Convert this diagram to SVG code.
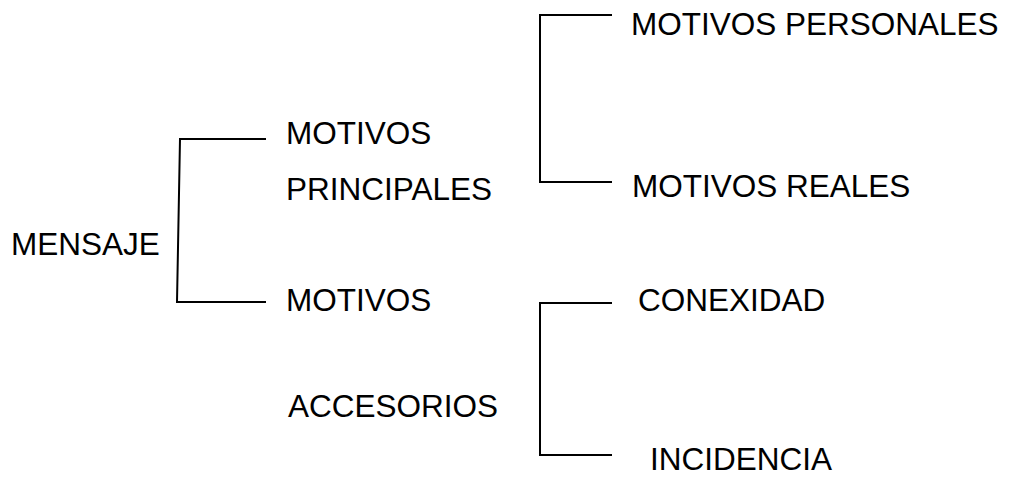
<svg xmlns="http://www.w3.org/2000/svg" width="1010" height="477" viewBox="0 0 1010 477">
<style>
text{font-family:"Liberation Sans",Arial,sans-serif;font-size:31.5px;fill:#000}
.c{fill:none;stroke:#000;stroke-width:2}
</style>
<rect width="1010" height="477" fill="#fff"/>
<g id="connectors">
<path class="c" d="M266,139 H180 L177,302 H266"/>
<path class="c" d="M612,15 H540 V182 H612"/>
<path class="c" d="M612,303 H540 V455 H612"/>
</g>
<g id="n-mensaje"><text x="11" y="255">MENSAJE</text></g>
<g id="n-principales"><text x="286" y="144">MOTIVOS</text><text x="286" y="200">PRINCIPALES</text></g>
<g id="n-accesorios"><text x="286" y="311">MOTIVOS</text><text x="288" y="417">ACCESORIOS</text></g>
<g id="n-personales"><text x="631" y="35">MOTIVOS PERSONALES</text></g>
<g id="n-reales"><text x="632" y="197">MOTIVOS REALES</text></g>
<g id="n-conexidad"><text x="638" y="311">CONEXIDAD</text></g>
<g id="n-incidencia"><text x="650" y="470">INCIDENCIA</text></g>
</svg>
